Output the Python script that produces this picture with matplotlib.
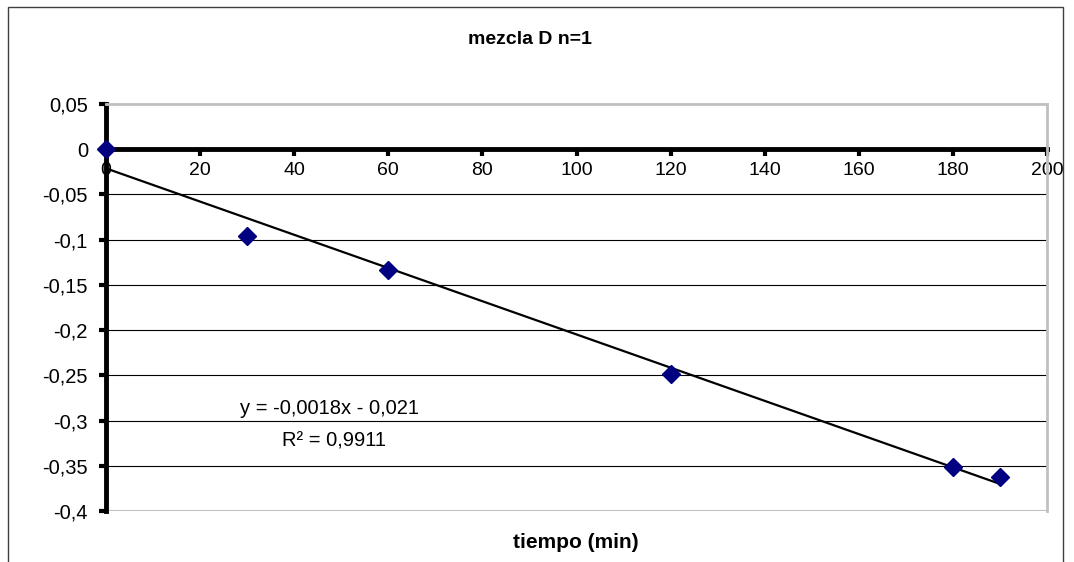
import matplotlib
matplotlib.use("Agg")
import matplotlib.pyplot as plt
import numpy as np
from matplotlib.patches import Rectangle

plt.rcParams['font.family'] = ['Liberation Sans', 'DejaVu Sans']

# Data
tiempo = [0, 30, 60, 120, 180, 190]
valores = [0.0, -0.096, -0.134, -0.249, -0.351, -0.362]
x_ticks = [0, 20, 40, 60, 80, 100, 120, 140, 160, 180, 200]
x_labels = ["0", "20", "40", "60", "80", "100", "120", "140", "160", "180", "200"]
y_ticks = [0.05, 0.0, -0.05, -0.1, -0.15, -0.2, -0.25, -0.3, -0.35, -0.4]
y_labels = ["0,05", "0", "-0,05", "-0,1", "-0,15", "-0,2", "-0,25", "-0,3", "-0,35", "-0,4"]
titulo = "mezcla D n=1"
xlabel = "tiempo (min)"
eq_line1 = "y = -0,0018x - 0,021"
eq_line2 = "R² = 0,9911"

fig = plt.figure(figsize=(10.74, 5.62), dpi=100)
fig.patches.append(Rectangle((8/1074, -0.1), (1063-8)/1074, 1.1 - 7/562,
                             transform=fig.transFigure, fill=False,
                             edgecolor='#404040', linewidth=1.0))
ax = fig.add_axes([106/1074, 1-511/562, (1047-106)/1074, (511-104)/562])
ax.set_xlim(0, 200)
ax.set_ylim(-0.4, 0.05)

# gridlines (interior)
for yv in y_ticks[1:-1]:
    ax.axhline(yv, color='black', lw=0.8, zorder=1)
ax.axhline(y_ticks[-1], color='#c0c0c0', lw=2.2, zorder=1)

# spines
ax.spines['top'].set_color('#c0c0c0')
ax.spines['top'].set_linewidth(2)
ax.spines['right'].set_color('#c0c0c0')
ax.spines['right'].set_linewidth(2)
ax.spines['left'].set_color('black')
ax.spines['left'].set_linewidth(3.5)
ax.spines['bottom'].set_position(('data', 0))
ax.spines['bottom'].set_color('black')
ax.spines['bottom'].set_linewidth(3.5)
ax.spines['bottom'].set_zorder(2)

ax.set_xticks(x_ticks)
ax.set_xticklabels(x_labels, fontsize=14)
ax.set_yticks(y_ticks)
ax.set_yticklabels(y_labels, fontsize=14.5)
ax.tick_params(axis='x', direction='out', length=5, width=3, pad=4)
ax.tick_params(axis='y', direction='out', length=5, width=3, pad=8)

# trendline
coef = np.polyfit(tiempo, valores, 1)
xs = np.array([tiempo[0], tiempo[-1]])
ax.plot(xs, np.polyval(coef, xs), color='black', lw=1.6, zorder=3, clip_on=False)

ax.plot(tiempo, valores, linestyle='none', marker='D', markersize=9.5,
        color='#000080', zorder=4, clip_on=False)

ax.text(47.5, -0.2863, eq_line1, ha='center', va='center', fontsize=14.5, zorder=5)
ax.text(48.5, -0.3228, eq_line2, ha='center', va='center', fontsize=14.5, zorder=5)

fig.text(0.493, 1-40/562, titulo, ha='center', va='center', fontsize=14,
         fontweight='bold')
fig.text(0.536, 1-543/562, xlabel, ha='center', va='center', fontsize=15,
         fontweight='bold')

fig.savefig('out.png', dpi=100)
